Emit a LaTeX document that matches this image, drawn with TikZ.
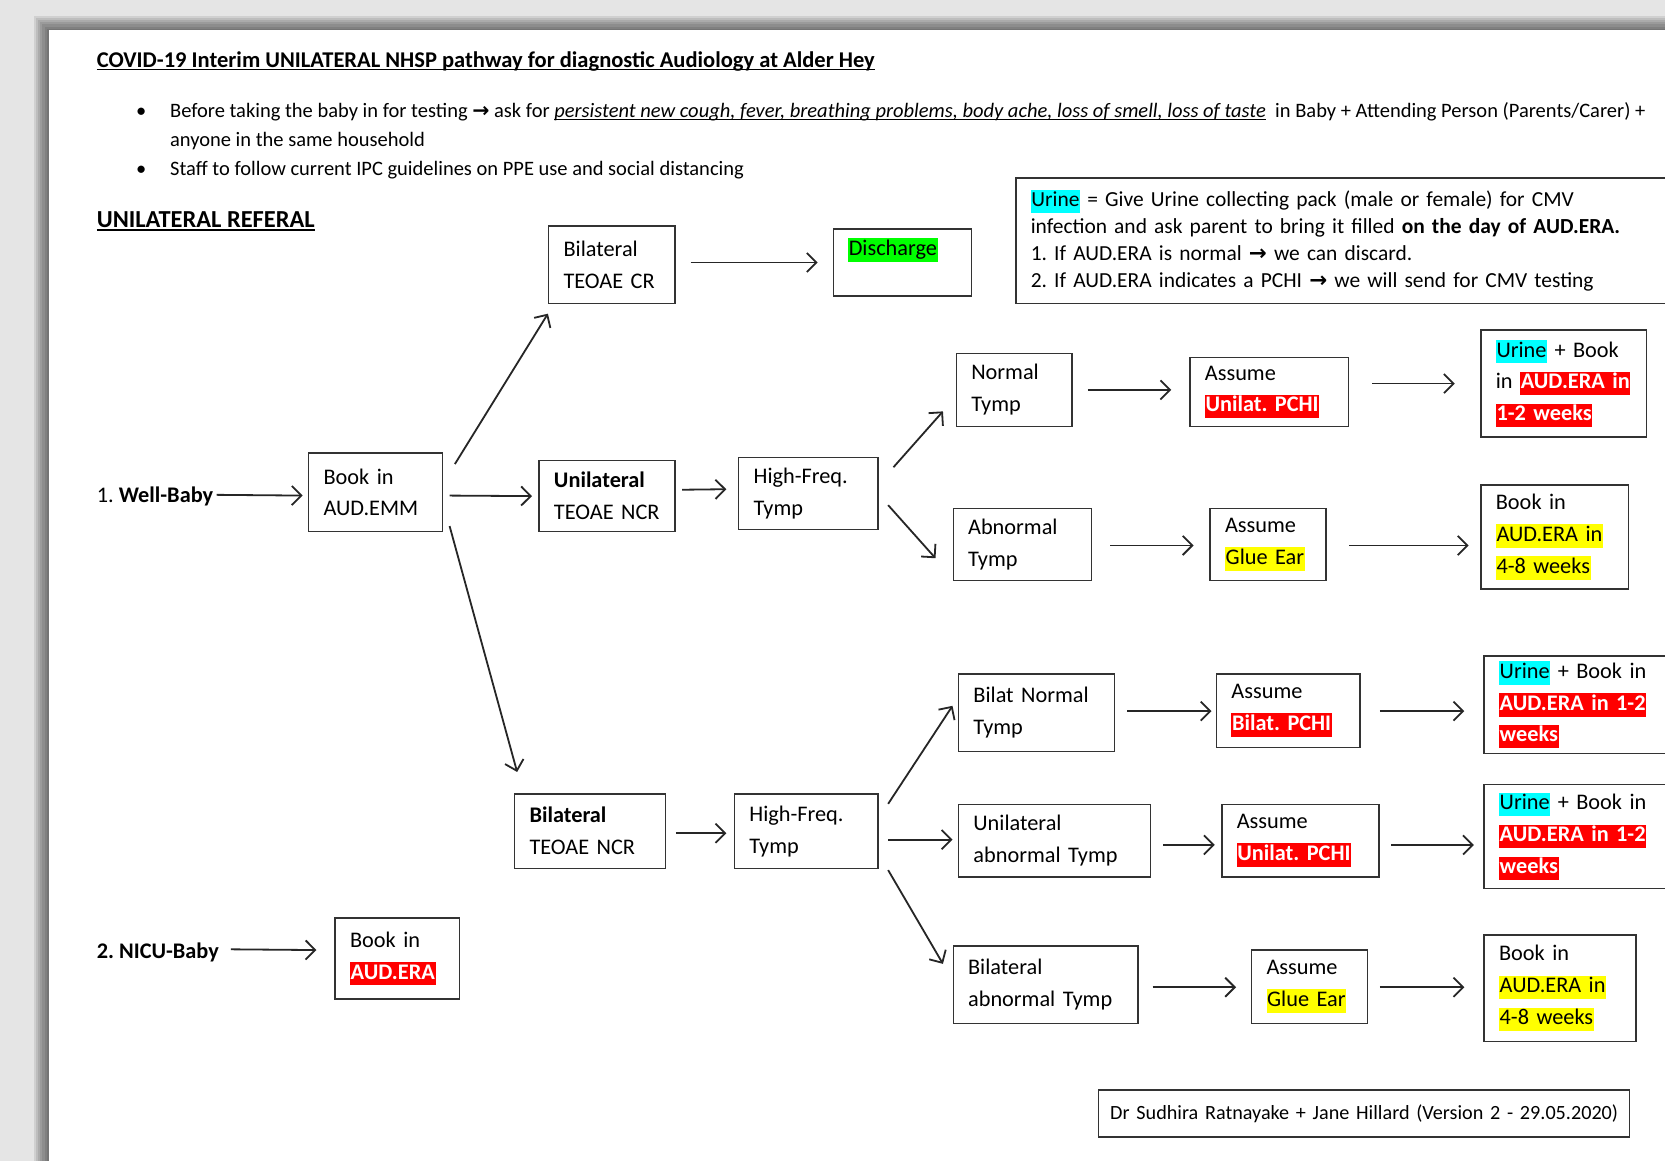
\documentclass[tikz,border=0pt]{standalone}
\usepackage{fontspec}
\setmainfont{Carlito}
\newfontfamily\arrowfont{DejaVu Sans}
\usepackage{xcolor}
\usetikzlibrary{arrows.meta,calc}

\definecolor{hlcyan}{HTML}{00FFFF}
\definecolor{hlred}{HTML}{FF0000}
\definecolor{hlyellow}{HTML}{FFFF00}
\definecolor{hlgreen}{HTML}{00FF00}
\frenchspacing
\newsavebox\ulsave
\newcommand{\ulbox}[1]{\sbox\ulsave{#1}\rlap{\rule[-2.6pt]{\wd\ulsave}{1.2pt}}\usebox\ulsave}
\newcommand{\hlbox}[2]{{\setlength{\fboxsep}{0.6pt}\colorbox{#1}{\rule[-0.26em]{0pt}{1em}#2}}}
\newcommand{\hlred}[1]{\hlbox{hlred}{\textcolor{white}{\bfseries #1}}}
\newcommand{\hlyel}[1]{\hlbox{hlyellow}{#1}}
\newcommand{\urine}{\hlbox{hlcyan}{Urine}}
\newcommand{\rarr}{{\arrowfont\bfseries →}}

\begin{document}
\begin{tikzpicture}[x=1pt, y=-1pt,
    box/.style={draw=black!80, line width=1.4pt, anchor=north west, align=left, inner xsep=14pt, inner ysep=0pt, font=\fontsize{21}{30}\selectfont},
    txt/.style={anchor=west, inner sep=0pt, font=\fontsize{19.3}{27}\selectfont, text height=0.7em, text depth=0.2em},
    arrow/.style={-{Straight Barb[length=9pt,width=18pt]}, line width=1.7pt, black!85}
]
    \useasboundingbox (0,0) rectangle (1568,1093);
    \clip (0,0) rectangle (1568,1093);
    % page and shadow
    \fill[gray!20] (0,0) rectangle (1568,1093);
    \foreach \d in {0,...,6}
        \fill[black, opacity=0.09] (32+2*\d,15+2*\d) rectangle (1600,1110);
    \fill[white] (46,28) rectangle (1600,1110);

    % header text
    \node[txt, font=\fontsize{21.2}{25}\selectfont\bfseries] (title) at (91,61) {\ulbox{COVID-19 Interim UNILATERAL NHSP pathway for diagnostic Audiology at Alder Hey}};
    \node[txt] (dot1) at (128,108) {\textbullet};
    \node[txt] (bul1) at (160,108) {Before taking the baby in for testing \rarr{} ask for \ulbox{\textit{persistent new cough, fever, breathing problems, body ache, loss of smell, loss of taste}}\ \ in Baby + Attending Person (Parents/Carer) +};
    \node[txt] (bul1b) at (160,135) {anyone in the same household};
    \node[txt] (dot2) at (128,163) {\textbullet};
    \node[txt] (bul2) at (160,163) {Staff to follow current IPC guidelines on PPE use and social distancing};
    \node[txt, font=\fontsize{23}{27}\selectfont\bfseries] (head) at (91,212) {\ulbox{UNILATERAL REFERAL}};

    % note on urine
    \node[box, font=\fontsize{20.2}{25.5}\selectfont, text width=640pt, minimum height=118pt] (note) at (956,167)
        {\urine{} = Give Urine collecting pack (male or female) for CMV\\
         infection and ask parent to bring it filled \textbf{on the day of AUD.ERA.}\\
         1. If AUD.ERA is normal \rarr{} we can discard.\\
         2. If AUD.ERA indicates a PCHI \rarr{} we will send for CMV testing};

    % well baby
    \node[txt, font=\fontsize{21}{25}\selectfont] (well) at (91,471) {1. \textbf{Well-Baby}};
    \node[box, text width=98pt, minimum height=74pt] (bookemm) at (290,426) {Book in\\AUD.EMM};
    \node[box, text width=91pt, minimum height=73pt] (bilatCR) at (516,212) {Bilateral\\TEOAE CR};
    \node[box, text width=102pt, minimum height=63pt] (discharge) at (784,215) {\hlbox{hlgreen}{Discharge}\\\mbox{}};
    \node[box, text width=100pt, minimum height=67pt] (uniNCR) at (507,433) {\textbf{Unilateral}\\TEOAE NCR};
    \node[box, text width=103pt, minimum height=68pt] (hfU) at (695,430) {High-Freq.\\Tymp};
    \node[box, text width=81pt, minimum height=69pt] (normT) at (900,332) {Normal\\Tymp};
    \node[box, text width=121pt, minimum height=65pt] (assU1) at (1120,336) {Assume\\\hlred{Unilat. PCHI}};
    \node[box, text width=128pt, minimum height=101pt] (urineU1) at (1394,310) {\urine{} + Book\\in \hlred{AUD.ERA in}\\\hlred{1-2 weeks}};
    \node[box, text width=102pt, minimum height=68pt] (abnT) at (897,478) {Abnormal\\Tymp};
    \node[box, text width=81pt, minimum height=68pt] (assG1) at (1139,478) {Assume\\\hlyel{Glue Ear}};
    \node[box, text width=111pt, minimum height=98pt] (bookG1) at (1394,456) {Book in\\\hlyel{AUD.ERA in}\\\hlyel{4-8 weeks}};

    % bilateral NCR branch
    \node[box, text width=114pt, minimum height=70pt] (biNCR) at (484,747) {\textbf{Bilateral}\\TEOAE NCR};
    \node[box, text width=107pt, minimum height=70pt] (hfL) at (691,747) {High-Freq.\\Tymp};
    \node[box, text width=119pt, minimum height=73pt] (bnT) at (902,634) {Bilat Normal\\Tymp};
    \node[box, text width=107pt, minimum height=69pt] (assB) at (1145,634) {Assume\\\hlred{Bilat. PCHI}};
    \node[box, text width=162pt, minimum height=92pt] (urineB) at (1397,617) {\urine{} + Book in\\\hlred{AUD.ERA in 1-2}\\\hlred{weeks}};
    \node[box, text width=153pt, minimum height=68pt] (uaT) at (902,757) {Unilateral\\abnormal Tymp};
    \node[box, text width=120pt, minimum height=68pt] (assU2) at (1150,757) {Assume\\\hlred{Unilat. PCHI}};
    \node[box, text width=162pt, minimum height=98pt] (urineU2) at (1397,738) {\urine{} + Book in\\\hlred{AUD.ERA in 1-2}\\\hlred{weeks}};
    \node[box, text width=146pt, minimum height=73pt] (baT) at (897,890) {Bilateral\\abnormal Tymp};
    \node[box, text width=81pt, minimum height=69pt] (assG2) at (1178,894) {Assume\\\hlyel{Glue Ear}};
    \node[box, text width=115pt, minimum height=100pt] (bookG2) at (1397,880) {Book in\\\hlyel{AUD.ERA in}\\\hlyel{4-8 weeks}};

    % NICU baby
    \node[txt, font=\fontsize{21}{25}\selectfont\bfseries] (nicu) at (91,900) {2. NICU-Baby};
    \node[box, text width=89pt, minimum height=76pt] (bookera) at (315,864) {Book in\\\hlred{AUD.ERA}};

    \node[box, align=center, inner xsep=0pt, text width=500pt, minimum height=44pt, font=\fontsize{19}{23}\selectfont] (footer) at (1034,1026) {Dr Sudhira Ratnayake + Jane Hillard (Version 2 - 29.05.2020)};

    % connectors
    \draw[arrow] ($(well.east)+(3,-5)$) -- ($(bookemm.west)+(-5,3)$);
    \draw[arrow] ($(bookemm.north east)+(11,11)$) -- ($(bilatCR.south west)+(0,9)$);
    \draw[arrow] ($(bookemm.east)+(6,3)$) -- ($(uniNCR.west)+(-6,0)$);
    \draw[arrow] ($(bookemm.south east)+(6,-6)$) -- ($(biNCR.north west)+(3,-20)$);
    \draw[arrow] ($(bilatCR.east)+(14,-2)$) -- ($(discharge.west)+(-14,0)$);
    \draw[arrow] ($(uniNCR.east)+(6,-6)$) -- ($(hfU.west)+(-11,-4)$);
    \draw[arrow] ($(hfU.north east)+(14,10)$) -- ($(normT.south west)+(-12,-15)$);
    \draw[arrow] ($(hfU.east)+(9,11)$) -- ($(abnT.west)+(-16,13)$);
    \draw[arrow] ($(normT.east)+(14,0)$) -- ($(assU1.west)+(-17,-2)$);
    \draw[arrow] ($(assU1.east)+(22,-8)$) -- ($(urineU1.west)+(-24,0)$);
    \draw[arrow] ($(abnT.east)+(17,1)$) -- ($(assG1.west)+(-15,1)$);
    \draw[arrow] ($(assG1.east)+(21,1)$) -- ($(bookG1.west)+(-11,8)$);
    \draw[arrow] ($(biNCR.east)+(9,2)$) -- ($(hfL.west)+(-7,2)$);
    \draw[arrow] ($(hfL.north east)+(9,10)$) -- ($(bnT.west)+(-5,-6.5)$);
    \draw[arrow] ($(hfL.east)+(9,8)$) -- ($(uaT.west)+(-5,-1)$);
    \draw[arrow] ($(hfL.south east)+(9,1)$) -- ($(baT.west)+(-9,-19.5)$);
    \draw[arrow] ($(bnT.east)+(11,-1.5)$) -- ($(assB.west)+(-4,0.5)$);
    \draw[arrow] ($(assB.east)+(18,0.5)$) -- ($(urineB.west)+(-18,6)$);
    \draw[arrow] ($(uaT.east)+(11,4)$) -- ($(assU2.west)+(-6,4)$);
    \draw[arrow] ($(assU2.east)+(11,4)$) -- ($(urineU2.west)+(-9,8)$);
    \draw[arrow] ($(baT.east)+(13,2.5)$) -- ($(assG2.west)+(-14,0.5)$);
    \draw[arrow] ($(assG2.east)+(11,0.5)$) -- ($(bookG2.west)+(-18,-1)$);
    \draw[arrow] ($(nicu.east)+(11,-6)$) -- ($(bookera.west)+(-17,-8)$);
\end{tikzpicture}
\end{document}
